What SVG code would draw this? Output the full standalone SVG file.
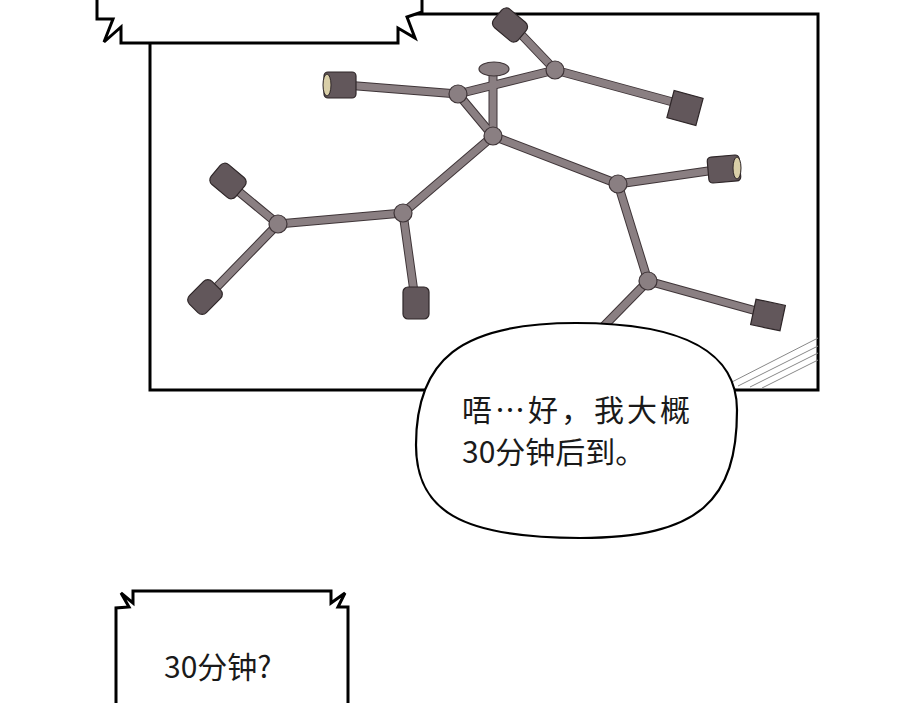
<svg xmlns="http://www.w3.org/2000/svg" width="900" height="703" viewBox="0 0 900 703">
<style>
.b{fill:#fff;stroke:#000;stroke-width:3;stroke-linejoin:miter}
.rod{stroke:#3f3538;stroke-width:9;stroke-linecap:round}
.rodi{stroke:#8a7f82;stroke-width:7;stroke-linecap:round}
.nd{fill:#8a7f82;stroke:#3f3538;stroke-width:1.2}
.cup{fill:#62575b;stroke:#2e2628;stroke-width:1.2}
.t{font-family:"Noto Sans CJK SC","Liberation Sans",sans-serif;font-size:30px;fill:#1a1a1a}
.h{stroke:#888;stroke-width:1}
</style>
<rect width="900" height="703" fill="#fff"/>
<g id="panel">
<rect x="150" y="14" width="668" height="376" class="b"/>
<g class="h"><line x1="728" y1="384" x2="818" y2="338"/><line x1="738" y1="386" x2="818" y2="346"/><line x1="750" y1="387" x2="818" y2="353"/><line x1="762" y1="388" x2="818" y2="360"/></g>
</g>
<g id="lamp">
<g class="rod"><line x1="458" y1="94" x2="555" y2="70"/><line x1="458" y1="94" x2="493" y2="136"/><line x1="493" y1="70" x2="493" y2="136"/><line x1="493" y1="136" x2="403" y2="213"/><line x1="403" y1="213" x2="278" y2="224"/><line x1="493" y1="136" x2="618" y2="184"/><line x1="618" y1="184" x2="648" y2="281"/><line x1="648" y1="281" x2="600" y2="330"/><line x1="458" y1="94" x2="345" y2="85"/><line x1="555" y1="70" x2="515" y2="28"/><line x1="555" y1="70" x2="680" y2="104"/><line x1="278" y1="224" x2="232" y2="186"/><line x1="278" y1="224" x2="212" y2="292"/><line x1="403" y1="213" x2="414" y2="292"/><line x1="618" y1="184" x2="715" y2="170"/><line x1="648" y1="281" x2="760" y2="312"/></g>
<g class="rodi"><line x1="458" y1="94" x2="555" y2="70"/><line x1="458" y1="94" x2="493" y2="136"/><line x1="493" y1="70" x2="493" y2="136"/><line x1="493" y1="136" x2="403" y2="213"/><line x1="403" y1="213" x2="278" y2="224"/><line x1="493" y1="136" x2="618" y2="184"/><line x1="618" y1="184" x2="648" y2="281"/><line x1="648" y1="281" x2="600" y2="330"/><line x1="458" y1="94" x2="345" y2="85"/><line x1="555" y1="70" x2="515" y2="28"/><line x1="555" y1="70" x2="680" y2="104"/><line x1="278" y1="224" x2="232" y2="186"/><line x1="278" y1="224" x2="212" y2="292"/><line x1="403" y1="213" x2="414" y2="292"/><line x1="618" y1="184" x2="715" y2="170"/><line x1="648" y1="281" x2="760" y2="312"/></g>
<ellipse cx="494" cy="69" rx="15" ry="7" class="nd"/>
<circle cx="458" cy="94" r="9" class="nd"/><circle cx="555" cy="70" r="9" class="nd"/><circle cx="493" cy="136" r="9" class="nd"/><circle cx="403" cy="213" r="9" class="nd"/><circle cx="278" cy="224" r="9" class="nd"/><circle cx="618" cy="184" r="9" class="nd"/><circle cx="648" cy="281" r="9" class="nd"/>
<rect x="324" y="72" width="32" height="26" rx="4" class="cup"/><ellipse cx="327" cy="85" rx="4" ry="11" fill="#d9cfa8" stroke="#2e2628"/>
<rect x="494" y="13" width="32" height="24" rx="6" class="cup" transform="rotate(40 510 25)"/>
<rect x="670" y="94" width="30" height="28" class="cup" transform="rotate(15 685 108)"/>
<rect x="212" y="168" width="32" height="26" rx="6" class="cup" transform="rotate(40 228 181)"/>
<rect x="189" y="285" width="32" height="24" rx="6" class="cup" transform="rotate(-45 205 297)"/>
<rect x="403" y="287" width="26" height="32" rx="5" class="cup"/>
<rect x="708" y="156" width="32" height="26" rx="4" class="cup" transform="rotate(-5 724 169)"/><ellipse cx="737" cy="168" rx="4" ry="11" fill="#d9cfa8" stroke="#2e2628"/>
<rect x="753" y="302" width="30" height="26" class="cup" transform="rotate(12 768 315)"/>
</g>
<g id="top-caption">
<path class="b" d="M97,-2 L97,19 L113,19 L104,42 L121,27 L121,43 L398,43 L398,28 L415,38 L407,17 L422,12 L422,-2 Z"/>
</g>
<g id="speech">
<path class="b" style="stroke-width:2.2" d="M576,323 C690,323 737,355 737,410 C737,500 700,538 580,538 C460,538 416,510 416,445 C416,360 460,323 576,323 Z"/>
<text class="t" x="462" y="421" letter-spacing="3">唔…好，我大概</text>
<text class="t" x="462" y="463">30分钟后到。</text>
</g>
<g id="bottom-caption">
<path class="b" d="M116,705 L116,608 L129,607 L121,593 L133,603 L133,591 L331,591 L331,603 L345,593 L338,607 L348,607 L348,705 Z"/>
<text class="t" x="164" y="678">30分钟?</text>
</g>
</svg>
